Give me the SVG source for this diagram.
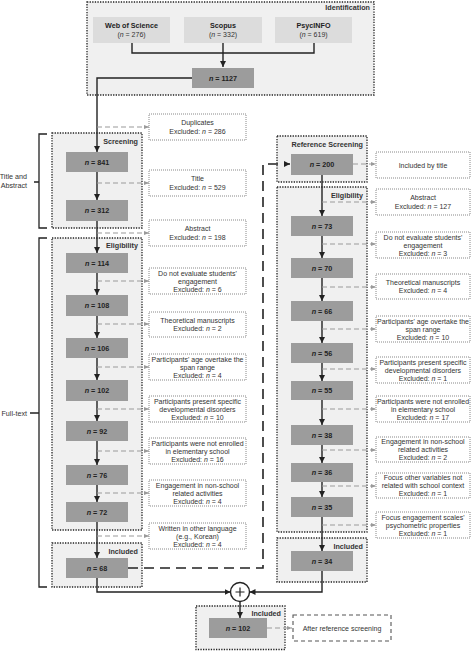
<svg xmlns="http://www.w3.org/2000/svg" width="474" height="651" viewBox="0 0 474 651">
<defs>
<style>
text{font-family:"Liberation Sans",Arial,sans-serif;font-size:7px;fill:#333;text-anchor:middle}
.b{font-weight:bold;fill:#222;font-size:7.2px}
.lbl{font-weight:bold;fill:#333;text-anchor:end;font-size:7.2px}
.side{text-anchor:end;fill:#333;font-size:7.2px}
.cont{fill:#f0f0f0;stroke:#222;stroke-width:1.3;stroke-dasharray:1.3 1.3}
.cnt{fill:#9c9c9c}
.src{fill:#dcdcdc}
.ex{fill:#fff;stroke:#888;stroke-width:1;stroke-dasharray:1 1}
.sol{fill:none;stroke:#222;stroke-width:1.4}
.dsh{fill:none;stroke:#9a9a9a;stroke-width:1.1;stroke-dasharray:5 3}
.big{fill:none;stroke:#222;stroke-width:1.6;stroke-dasharray:10 6}
.brk{fill:none;stroke:#222;stroke-width:1.3}
</style>
<marker id="ah" viewBox="0 0 6 6" refX="6" refY="3" markerWidth="6" markerHeight="6" markerUnits="userSpaceOnUse" orient="auto"><path d="M0,0 L6,3 L0,6 z" fill="#222"/></marker>
<marker id="gh" viewBox="0 0 5 5" refX="5" refY="2.5" markerWidth="5" markerHeight="5" markerUnits="userSpaceOnUse" orient="auto"><path d="M0,0.5 L5,2.5 L0,4.5 z" fill="#9a9a9a"/></marker>
</defs>
<rect width="474" height="651" fill="#fff"/>

<g id="containers">
<rect class="cont" x="87" y="2" width="287" height="93"/>
<text class="lbl" x="370" y="10">Identification</text>
<rect class="cont" x="52" y="133" width="90" height="95"/>
<text class="lbl" x="138" y="143.5">Screening</text>
<rect class="cont" x="52" y="238" width="90" height="292"/>
<text class="lbl" x="138" y="248">Eligibility</text>
<rect class="cont" x="52" y="543" width="90" height="44"/>
<text class="lbl" x="138" y="553.5">Included</text>
<rect class="cont" x="277" y="136" width="90" height="46"/>
<text class="lbl" x="363" y="146.5">Reference Screening</text>
<rect class="cont" x="277" y="187" width="90" height="345"/>
<text class="lbl" x="363" y="197.5">Eligibility</text>
<rect class="cont" x="277" y="538" width="90" height="44"/>
<text class="lbl" x="363" y="548.5">Included</text>
<rect class="cont" x="196" y="606" width="89" height="43.5"/>
<text class="lbl" x="281" y="616">Included</text>
</g>

<g id="brackets">
<path class="brk" d="M47,134 H39 V228 H47 M39,182 H34"/>
<text class="side" x="27" y="179">Title and</text>
<text class="side" x="27" y="188">Abstract</text>
<path class="brk" d="M47,238 H39 V587 H47 M39,413 H30"/>
<text class="side" x="27" y="415.5">Full-text</text>
</g>

<g id="connectors">
<path class="sol" d="M132,43 V53 H314 V43"/>
<path class="sol" d="M223,43 V67" marker-end="url(#ah)"/>
<path class="sol" d="M192,78 H97 V152" marker-end="url(#ah)"/>
<path class="sol" d="M97,172 V200" marker-end="url(#ah)"/>
<path class="sol" d="M97,221 V253" marker-end="url(#ah)"/>
<path class="sol" d="M97,273 V295" marker-end="url(#ah)"/>
<path class="sol" d="M97,316 V338" marker-end="url(#ah)"/>
<path class="sol" d="M97,358 V380" marker-end="url(#ah)"/>
<path class="sol" d="M97,401 V421" marker-end="url(#ah)"/>
<path class="sol" d="M97,441 V465" marker-end="url(#ah)"/>
<path class="sol" d="M97,485 V502" marker-end="url(#ah)"/>
<path class="sol" d="M97,522 V558" marker-end="url(#ah)"/>
<path class="sol" d="M97,578 V592 H230.5" marker-end="url(#ah)"/>
<path class="sol" d="M322,175 V216" marker-end="url(#ah)"/>
<path class="sol" d="M322,236 V258" marker-end="url(#ah)"/>
<path class="sol" d="M322,278 V301" marker-end="url(#ah)"/>
<path class="sol" d="M322,321 V343" marker-end="url(#ah)"/>
<path class="sol" d="M322,363 V381" marker-end="url(#ah)"/>
<path class="sol" d="M322,400 V425" marker-end="url(#ah)"/>
<path class="sol" d="M322,445 V463" marker-end="url(#ah)"/>
<path class="sol" d="M322,482 V497" marker-end="url(#ah)"/>
<path class="sol" d="M322,517 V551" marker-end="url(#ah)"/>
<path class="sol" d="M322,571 V592 H249.5" marker-end="url(#ah)"/>
<path class="sol" d="M240,601.5 V618" marker-end="url(#ah)"/>
<path class="big" d="M128,568 H263 V164 H290" marker-end="url(#ah)"/>
<path class="dsh" d="M97,127 H149" marker-end="url(#gh)"/>
<path class="dsh" d="M97,183 H149" marker-end="url(#gh)"/>
<path class="dsh" d="M97,233 H149" marker-end="url(#gh)"/>
<path class="dsh" d="M97,281 H149" marker-end="url(#gh)"/>
<path class="dsh" d="M97,324 H149" marker-end="url(#gh)"/>
<path class="dsh" d="M97,367 H149" marker-end="url(#gh)"/>
<path class="dsh" d="M97,409 H149" marker-end="url(#gh)"/>
<path class="dsh" d="M97,451 H149" marker-end="url(#gh)"/>
<path class="dsh" d="M97,493 H149" marker-end="url(#gh)"/>
<path class="dsh" d="M97,536 H149" marker-end="url(#gh)"/>
<path class="dsh" d="M353,164 H376" marker-end="url(#gh)"/>
<path class="dsh" d="M322,202 H376" marker-end="url(#gh)"/>
<path class="dsh" d="M322,244 H376" marker-end="url(#gh)"/>
<path class="dsh" d="M322,287 H376" marker-end="url(#gh)"/>
<path class="dsh" d="M322,329 H376" marker-end="url(#gh)"/>
<path class="dsh" d="M322,369 H376" marker-end="url(#gh)"/>
<path class="dsh" d="M322,409 H376" marker-end="url(#gh)"/>
<path class="dsh" d="M322,450 H376" marker-end="url(#gh)"/>
<path class="dsh" d="M322,486 H376" marker-end="url(#gh)"/>
<path class="dsh" d="M322,525 H376" marker-end="url(#gh)"/>
<path class="dsh" d="M267,628 H292" marker-end="url(#gh)"/>
</g>

<g id="wos"><rect class="src" x="93" y="17" width="77" height="26"/><text class="b" x="131.5" y="28">Web of Science</text><text x="131.5" y="37">(<tspan font-style="italic">n</tspan> = 276)</text></g>
<g id="scopus"><rect class="src" x="184" y="17" width="78" height="26"/><text class="b" x="223" y="28">Scopus</text><text x="223" y="37">(<tspan font-style="italic">n</tspan> = 332)</text></g>
<g id="psycinfo"><rect class="src" x="275" y="17" width="77" height="26"/><text class="b" x="313.5" y="28">PsycINFO</text><text x="313.5" y="37">(<tspan font-style="italic">n</tspan> = 619)</text></g>
<g id="n1127"><rect class="cnt" x="192" y="68" width="62" height="20"/><text class="b" x="223" y="80.5"><tspan font-style="italic">n</tspan> = 1127</text></g>

<g id="n841"><rect class="cnt" x="66" y="152" width="62" height="20"/><text class="b" x="97" y="164.5"><tspan font-style="italic">n</tspan> = 841</text></g>
<g id="n312"><rect class="cnt" x="66" y="200" width="62" height="21"/><text class="b" x="97" y="213"><tspan font-style="italic">n</tspan> = 312</text></g>
<g id="n114"><rect class="cnt" x="66" y="253" width="62" height="20"/><text class="b" x="97" y="265.5"><tspan font-style="italic">n</tspan> = 114</text></g>
<g id="n108"><rect class="cnt" x="66" y="295" width="62" height="21"/><text class="b" x="97" y="308"><tspan font-style="italic">n</tspan> = 108</text></g>
<g id="n106"><rect class="cnt" x="66" y="338" width="62" height="20"/><text class="b" x="97" y="350.5"><tspan font-style="italic">n</tspan> = 106</text></g>
<g id="n102a"><rect class="cnt" x="66" y="380" width="62" height="21"/><text class="b" x="97" y="393"><tspan font-style="italic">n</tspan> = 102</text></g>
<g id="n92"><rect class="cnt" x="66" y="421" width="62" height="20"/><text class="b" x="97" y="433.5"><tspan font-style="italic">n</tspan> = 92</text></g>
<g id="n76"><rect class="cnt" x="66" y="465" width="62" height="20"/><text class="b" x="97" y="477.5"><tspan font-style="italic">n</tspan> = 76</text></g>
<g id="n72"><rect class="cnt" x="66" y="502" width="62" height="20"/><text class="b" x="97" y="514.5"><tspan font-style="italic">n</tspan> = 72</text></g>
<g id="n68"><rect class="cnt" x="66" y="558" width="62" height="20"/><text class="b" x="97" y="570.5"><tspan font-style="italic">n</tspan> = 68</text></g>

<g id="exDup"><rect class="ex" x="149" y="114" width="97" height="26"/><text x="197.5" y="125">Duplicates</text><text x="197.5" y="133.5">Excluded: <tspan font-style="italic">n</tspan> = 286</text></g>
<g id="exTitle"><rect class="ex" x="149" y="170" width="97" height="26"/><text x="197.5" y="181">Title</text><text x="197.5" y="189.5">Excluded: <tspan font-style="italic">n</tspan> = 529</text></g>
<g id="exAbs"><rect class="ex" x="149" y="220" width="97" height="26"/><text x="197.5" y="231">Abstract</text><text x="197.5" y="239.5">Excluded: <tspan font-style="italic">n</tspan> = 198</text></g>
<g id="exEng"><rect class="ex" x="149" y="268" width="97" height="26"/><text x="197.5" y="275.5">Do not evaluate students'</text><text x="197.5" y="283.5">engagement</text><text x="197.5" y="291.5">Excluded: <tspan font-style="italic">n</tspan> = 6</text></g>
<g id="exTheo"><rect class="ex" x="149" y="312" width="97" height="25"/><text x="197.5" y="322.5">Theoretical manuscripts</text><text x="197.5" y="331">Excluded: <tspan font-style="italic">n</tspan> = 2</text></g>
<g id="exAge"><rect class="ex" x="149" y="354" width="97" height="26"/><text x="197.5" y="361.5">Participants' age overtake the</text><text x="197.5" y="369.5">span range</text><text x="197.5" y="377.5">Excluded: <tspan font-style="italic">n</tspan> = 4</text></g>
<g id="exDev"><rect class="ex" x="149" y="396" width="97" height="26"/><text x="197.5" y="403.5">Participants present specific</text><text x="197.5" y="411.5">developmental disorders</text><text x="197.5" y="419.5">Excluded: <tspan font-style="italic">n</tspan> = 10</text></g>
<g id="exElem"><rect class="ex" x="149" y="438" width="97" height="26"/><text x="197.5" y="445.5">Participants were not enrolled</text><text x="197.5" y="453.5">in elementary school</text><text x="197.5" y="461.5">Excluded: <tspan font-style="italic">n</tspan> = 16</text></g>
<g id="exNon"><rect class="ex" x="149" y="480" width="97" height="26"/><text x="197.5" y="487.5">Engagement in non-school</text><text x="197.5" y="495.5">related activities</text><text x="197.5" y="503.5">Excluded: <tspan font-style="italic">n</tspan> = 4</text></g>
<g id="exLang"><rect class="ex" x="149" y="523" width="97" height="26"/><text x="197.5" y="530.5">Written in other language</text><text x="197.5" y="538.5">(e.g., Korean)</text><text x="197.5" y="546.5">Excluded: <tspan font-style="italic">n</tspan> = 4</text></g>

<g id="n200"><rect class="cnt" x="291" y="154" width="62" height="21"/><text class="b" x="322" y="167"><tspan font-style="italic">n</tspan> = 200</text></g>
<g id="n73"><rect class="cnt" x="291" y="216" width="62" height="20"/><text class="b" x="322" y="228.5"><tspan font-style="italic">n</tspan> = 73</text></g>
<g id="n70"><rect class="cnt" x="291" y="258" width="62" height="20"/><text class="b" x="322" y="270.5"><tspan font-style="italic">n</tspan> = 70</text></g>
<g id="n66"><rect class="cnt" x="291" y="301" width="62" height="20"/><text class="b" x="322" y="313.5"><tspan font-style="italic">n</tspan> = 66</text></g>
<g id="n56"><rect class="cnt" x="291" y="343" width="62" height="20"/><text class="b" x="322" y="355.5"><tspan font-style="italic">n</tspan> = 56</text></g>
<g id="n55"><rect class="cnt" x="291" y="381" width="62" height="19"/><text class="b" x="322" y="393"><tspan font-style="italic">n</tspan> = 55</text></g>
<g id="n38"><rect class="cnt" x="291" y="425" width="62" height="20"/><text class="b" x="322" y="437.5"><tspan font-style="italic">n</tspan> = 38</text></g>
<g id="n36"><rect class="cnt" x="291" y="463" width="62" height="19"/><text class="b" x="322" y="475"><tspan font-style="italic">n</tspan> = 36</text></g>
<g id="n35"><rect class="cnt" x="291" y="497" width="62" height="20"/><text class="b" x="322" y="509.5"><tspan font-style="italic">n</tspan> = 35</text></g>
<g id="n34"><rect class="cnt" x="291" y="551" width="62" height="20"/><text class="b" x="322" y="563.5"><tspan font-style="italic">n</tspan> = 34</text></g>

<g id="rxTitle"><rect class="ex" x="376" y="152" width="94" height="26"/><text x="423" y="167.5">Included by title</text></g>
<g id="rxAbs"><rect class="ex" x="376" y="189" width="94" height="26"/><text x="423" y="200">Abstract</text><text x="423" y="208.5">Excluded: <tspan font-style="italic">n</tspan> = 127</text></g>
<g id="rxEng"><rect class="ex" x="376" y="232" width="94" height="26"/><text x="423" y="239.5">Do not evaluate students'</text><text x="423" y="247.5">engagement</text><text x="423" y="255.5">Excluded: <tspan font-style="italic">n</tspan> = 3</text></g>
<g id="rxTheo"><rect class="ex" x="376" y="274" width="94" height="25"/><text x="423" y="284.5">Theoretical manuscripts</text><text x="423" y="293">Excluded: <tspan font-style="italic">n</tspan> = 4</text></g>
<g id="rxAge"><rect class="ex" x="376" y="316" width="94" height="26"/><text x="423" y="323.5">Participants' age overtake the</text><text x="423" y="331.5">span range</text><text x="423" y="339.5">Excluded: <tspan font-style="italic">n</tspan> = 10</text></g>
<g id="rxDev"><rect class="ex" x="376" y="357" width="94" height="26"/><text x="423" y="364.5">Participants present specific</text><text x="423" y="372.5">developmental disorders</text><text x="423" y="380.5">Excluded: <tspan font-style="italic">n</tspan> = 1</text></g>
<g id="rxElem"><rect class="ex" x="376" y="396" width="94" height="26"/><text x="423" y="403.5">Participants were not enrolled</text><text x="423" y="411.5">in elementary school</text><text x="423" y="419.5">Excluded: <tspan font-style="italic">n</tspan> = 17</text></g>
<g id="rxNon"><rect class="ex" x="376" y="437" width="94" height="25"/><text x="423" y="444">Engagement in non-school</text><text x="423" y="452">related activities</text><text x="423" y="460">Excluded: <tspan font-style="italic">n</tspan> = 2</text></g>
<g id="rxCtx"><rect class="ex" x="376" y="473" width="94" height="25"/><text x="423" y="480">Focus other variables not</text><text x="423" y="488">related with school context</text><text x="423" y="496">Excluded: <tspan font-style="italic">n</tspan> = 1</text></g>
<g id="rxPsy"><rect class="ex" x="376" y="512" width="94" height="26"/><text x="423" y="519.5">Focus engagement scales'</text><text x="423" y="527.5">psychometric properties</text><text x="423" y="535.5">Excluded: <tspan font-style="italic">n</tspan> = 1</text></g>

<g id="plus"><circle cx="240" cy="592" r="9.5" fill="#fff" stroke="#222" stroke-width="1.4"/><path d="M235.5,592 H244.5 M240,587.5 V596.5" stroke="#222" stroke-width="1.2"/></g>
<g id="n102"><rect class="cnt" x="209" y="618" width="58" height="20"/><text class="b" x="238" y="630.5"><tspan font-style="italic">n</tspan> = 102</text></g>
<g id="after"><rect x="293" y="615" width="98" height="26" fill="#fff" stroke="#555" stroke-width="1.1" stroke-dasharray="4 3"/><text x="342" y="630.5">After reference screening</text></g>
</svg>
